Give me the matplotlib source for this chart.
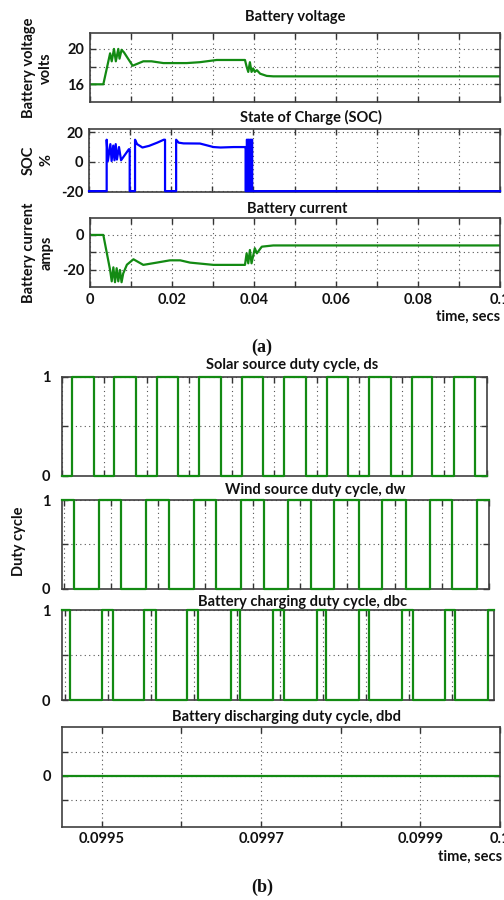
import matplotlib
matplotlib.use('Agg')
import matplotlib.pyplot as plt
import numpy as np

plt.rcParams['font.family'] = ['Lato', 'DejaVu Sans']
plt.rcParams['font.weight'] = 'bold'
plt.rcParams['font.size'] = 10

W, H = 504, 900
GREEN = '#138a13'
BLUE = '#0000ff'
TXT = '#111111'

# ---- panel (a): battery quantities over 0..0.1 s ----
volt_t = [0, 0.00325, 0.0049, 0.0053, 0.00585, 0.0063, 0.0069, 0.0072, 0.0077, 0.0083,
          0.0104, 0.0130, 0.0150, 0.0179, 0.0236, 0.0268, 0.0309, 0.0378, 0.0382,
          0.0386, 0.0390, 0.0394, 0.0398, 0.0402, 0.0407, 0.0415, 0.0431, 0.0447, 0.1]
volt_v = [16.0, 16.0, 19.5, 18.6, 20.0, 18.6, 20.0, 18.9, 19.9, 19.6,
          18.1, 18.6, 18.6, 18.4, 18.4, 18.5, 18.75, 18.75, 18.0,
          17.4, 18.5, 17.4, 17.8, 17.4, 17.6, 17.2, 16.95, 16.9, 16.9]

soc_t = [0, 0.0043, 0.0043, 0.0046, 0.0052, 0.0055, 0.0059, 0.0062, 0.0065, 0.0068,
         0.0073, 0.0078, 0.0097, 0.0099, 0.0099, 0.0112, 0.0112, 0.0117, 0.0130,
         0.0146, 0.0166, 0.0182, 0.0185, 0.0185, 0.0212, 0.0212, 0.0218, 0.0230,
         0.0270, 0.0303, 0.0320, 0.0352, 0.0380, 0.0381, 0.0381,
         0.0384, 0.0384, 0.0385, 0.0385,
         0.0388, 0.0388, 0.0389, 0.0389,
         0.0392, 0.0392, 0.0393, 0.0393,
         0.0396, 0.0396, 0.0397, 0.0397, 0.1]
soc_v = [-20, -20, 15, 0.5, 12, 0.5, 11, 1, 12, 1.5,
         10, 1, 8.5, 8.5, -20, -20, 15, 12, 9.7,
         10.8, 13, 15, 15, -20, -20, 15, 13, 12.5,
         12.4, 10, 9.7, 10, 10, 10, -20,
         -20, 15, 15, -20,
         -20, 15, 15, -20,
         -20, 15, 15, -20,
         -20, 15, 15, -20, -20]

curr_t = [0, 0.00325, 0.0049, 0.0053, 0.0057, 0.0061, 0.0065, 0.0069, 0.0073, 0.0077,
          0.0081, 0.0090, 0.0106, 0.0130, 0.0163, 0.0195, 0.0220, 0.0244, 0.0301,
          0.0378, 0.0382, 0.0386, 0.0390, 0.0394, 0.0402, 0.0407, 0.0419, 0.0447, 0.1]
curr_v = [0, 0, -20, -26.5, -18.5, -27, -19, -26.5, -20, -27,
          -22, -17, -13.9, -17.1, -15.8, -14.5, -14.5, -15.8, -17.1,
          -17.1, -10.5, -16.2, -8.6, -16.2, -7.6, -10.5, -6.7, -6.0, -6.0]

a_xticks = [0, 0.01, 0.02, 0.03, 0.04, 0.05, 0.06, 0.07, 0.08, 0.09, 0.1]
a_xlabels = ['0', '', '0.02', '', '0.04', '', '0.06', '', '0.08', '', '0.1']

# ---- panel (b): duty cycles, switching edges in microseconds from a base time ----
solar_base = 0.0995
solar_start = 0
solar_edges_us = [12, 38, 62, 87, 112, 137, 162, 187, 212, 237,
                  261, 287, 312, 337, 361, 387, 412, 436, 461, 486]
solar_xlim_us = (0, 500)

wind_base = 0.09955
wind_start = 1
wind_edges_us = [11, 37, 61, 87, 111, 138, 161, 188, 212, 237,
                 262, 286, 312, 337, 362, 387, 411, 437]
wind_xlim_us = (-2, 450)

charge_base = 0.0995
charge_start = 1
charge_edges_us = [6, 43, 56, 92, 106, 142, 155, 193, 204, 242,
                   255, 293, 304, 342, 354, 392, 405, 442, 454, 492]
charge_xlim_us = (-3.8, 499)

dis_t = [0.09945, 0.1]
dis_v = [0, 0]
dis_xticks = [0.0995, 0.0996, 0.0997, 0.0998, 0.0999, 0.1]
dis_xlabels = ['0.0995', '', '0.0997', '', '0.0999', '0.1']


def px_axes(fig, left, top, right, bottom):
    return fig.add_axes([left / W, 1 - bottom / H, (right - left) / W, (bottom - top) / H])


def style(ax):
    ax.tick_params(direction='in', top=True, right=True, length=4, width=1,
                   color='#333333', labelcolor=TXT, labelsize=10.5, pad=4)
    ax.grid(True, linestyle=(0, (1, 3)), color='#555555', linewidth=0.8)
    for sp in ax.spines.values():
        sp.set_color('#404040')
        sp.set_linewidth(1.2)
    ax.set_axisbelow(True)


def ftext(x, y, s, **kw):
    fig.text(x / W, 1 - y / H, s, color=TXT, ha='center', va='center', **kw)


def pwm(base, start, edges_us, xlim_us):
    t_us = [xlim_us[0]] + edges_us + [xlim_us[1]]
    lv = [start]
    for _ in edges_us:
        lv.append(1 - lv[-1])
    lv.append(lv[-1])
    t = [base + u * 1e-6 for u in t_us]
    return t, lv


fig = plt.figure(figsize=(W / 100, H / 100), dpi=100)
LW = 1.6

# battery voltage
ax = px_axes(fig, 90, 33, 500, 102)
style(ax)
ax.plot(volt_t, volt_v, color=GREEN, lw=LW)
ax.set_xlim(0, 0.1)
ax.set_ylim(14.0, 21.8)
ax.set_xticks(a_xticks)
ax.set_xticklabels([])
ax.set_yticks([16, 18, 20])
ax.set_yticklabels(['16', '', '20'])
ftext(295, 17, 'Battery voltage', fontsize=10.5)
ftext(37.5, 68, 'Battery voltage\nvolts', rotation=90, linespacing=1.35, fontsize=10.5)

# SOC
ax = px_axes(fig, 89, 129, 500, 191.7)
style(ax)
ax.plot(soc_t, soc_v, color=BLUE, lw=LW, zorder=3, clip_on=False)
ax.set_xlim(0, 0.1)
ax.set_ylim(-20.4, 22.3)
ax.set_xticks(a_xticks)
ax.set_xticklabels([])
ax.set_yticks([-20, 0, 20])
ax.set_yticklabels(['-20', '0', '20'])
ftext(311, 117, 'State of Charge (SOC)', fontsize=10.5)
ftext(37.5, 160, 'SOC\n%', rotation=90, linespacing=1.35, fontsize=10.5)

# battery current
ax = px_axes(fig, 90, 218.3, 500, 287.3)
style(ax)
ax.plot(curr_t, curr_v, color=GREEN, lw=LW)
ax.set_xlim(0, 0.1)
ax.set_ylim(-29.9, 9.5)
ax.set_xticks(a_xticks)
ax.set_xticklabels(a_xlabels)
ax.set_yticks([-20, -10, 0])
ax.set_yticklabels(['-20', '', '0'])
ftext(297, 209, 'Battery current', fontsize=10.5)
ftext(37.5, 253, 'Battery current\namps', rotation=90, linespacing=1.35, fontsize=10.5)
fig.text(500 / W, 1 - 317 / H, 'time, secs', color=TXT, ha='right', va='center', fontsize=10.5)
fig.text(262 / W, 1 - 347 / H, '(a)', color=TXT, ha='center', va='center',
         family=['Liberation Serif', 'DejaVu Serif'], fontsize=13)

# duty cycle panels
duty = [
    ('Solar source duty cycle, ds', (61.7, 376.7, 486.7, 475.7), (291.7, 365),
     solar_base, solar_start, solar_edges_us, solar_xlim_us),
    ('Wind source duty cycle, dw', (61.7, 500, 489.3, 588.7), (315, 490),
     wind_base, wind_start, wind_edges_us, wind_xlim_us),
    ('Battery charging duty cycle, dbc', (61.7, 610, 494, 700), (302.5, 602),
     charge_base, charge_start, charge_edges_us, charge_xlim_us),
]
for title, box, tpos, base, start, edges, xl in duty:
    ax = px_axes(fig, *box)
    style(ax)
    t, lv = pwm(base, start, edges, xl)
    ax.plot(t, lv, color=GREEN, lw=LW, drawstyle='steps-post', zorder=3, clip_on=False)
    ax.set_xlim(base + xl[0] * 1e-6, base + xl[1] * 1e-6)
    ax.set_ylim(0, 1)
    ax.set_xticks([base + k * 50e-6 for k in range(11) if k * 50 <= xl[1]])
    ax.set_xticklabels([])
    ax.set_yticks([0, 0.5, 1])
    ax.set_yticklabels(['0', '', '1'])
    ax.tick_params(axis='y', pad=8)
    ftext(*tpos, title, fontsize=10.5)

# battery discharging
ax = px_axes(fig, 62, 726.7, 500, 826.7)
style(ax)
ax.plot(dis_t, dis_v, color=GREEN, lw=LW)
ax.set_xlim(0.09945, 0.1)
ax.set_ylim(-1.06, 1.02)
ax.set_xticks(dis_xticks)
ax.set_xticklabels(dis_xlabels)
ax.set_yticks([-0.5, 0, 0.5])
ax.set_yticklabels(['', '0', ''])
ax.tick_params(axis='y', pad=8)
ftext(286.7, 717, 'Battery discharging duty cycle, dbd', fontsize=10.5)
fig.text(502 / W, 1 - 857 / H, 'time, secs', color=TXT, ha='right', va='center', fontsize=10.5)
ftext(18.5, 541, 'Duty cycle', rotation=90, fontsize=10.5)
fig.text(262 / W, 1 - 887 / H, '(b)', color=TXT, ha='center', va='center',
         family=['Liberation Serif', 'DejaVu Serif'], fontsize=13)

fig.savefig('out.png', dpi=100)
